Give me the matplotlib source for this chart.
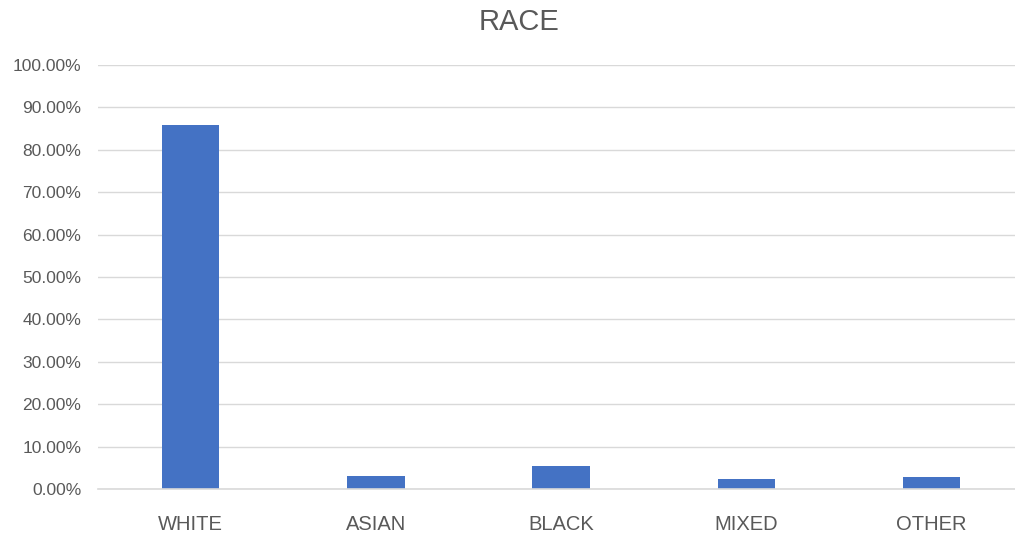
import matplotlib
matplotlib.use("Agg")
import matplotlib.pyplot as plt
from matplotlib.ticker import PercentFormatter, MultipleLocator

categories = ["WHITE", "ASIAN", "BLACK", "MIXED", "OTHER"]
values = [85.8, 3.1, 5.5, 2.4, 2.8]  # percent

plt.rcParams['font.family'] = ['Liberation Sans', 'DejaVu Sans']

fig = plt.figure(figsize=(10.15, 5.38), dpi=100)
ax = fig.add_axes([98/1015, 1-489/538, (1015-98)/1015, (489-65)/538])

x = list(range(len(categories)))
ax.bar(x, values, width=0.31, color="#4472C4", zorder=3)

ax.set_ylim(0, 100)
ax.set_xlim(-0.5, 4.45)
ax.yaxis.set_major_locator(MultipleLocator(10))
ax.yaxis.set_major_formatter(PercentFormatter(100, decimals=2))
ax.grid(axis="y", color="#d9d9d9", linewidth=1, zorder=0)
for s in ["top", "right", "left"]:
    ax.spines[s].set_visible(False)
ax.spines["bottom"].set_color("#d9d9d9")
ax.spines["bottom"].set_linewidth(1.2)
ax.spines["bottom"].set_zorder(4)

ax.set_xticks(x)
ax.set_xticklabels(categories)
ax.tick_params(axis="x", length=0, pad=18.5, labelsize=14.5, labelcolor="#595959")
ax.tick_params(axis="y", length=0, pad=12, labelsize=12.5, labelcolor="#595959")

fig.text(519.5/1015, 1-22/538, "RACE", ha="center", va="center", fontsize=21, color="#595959")

fig.savefig("out.png", dpi=100)
